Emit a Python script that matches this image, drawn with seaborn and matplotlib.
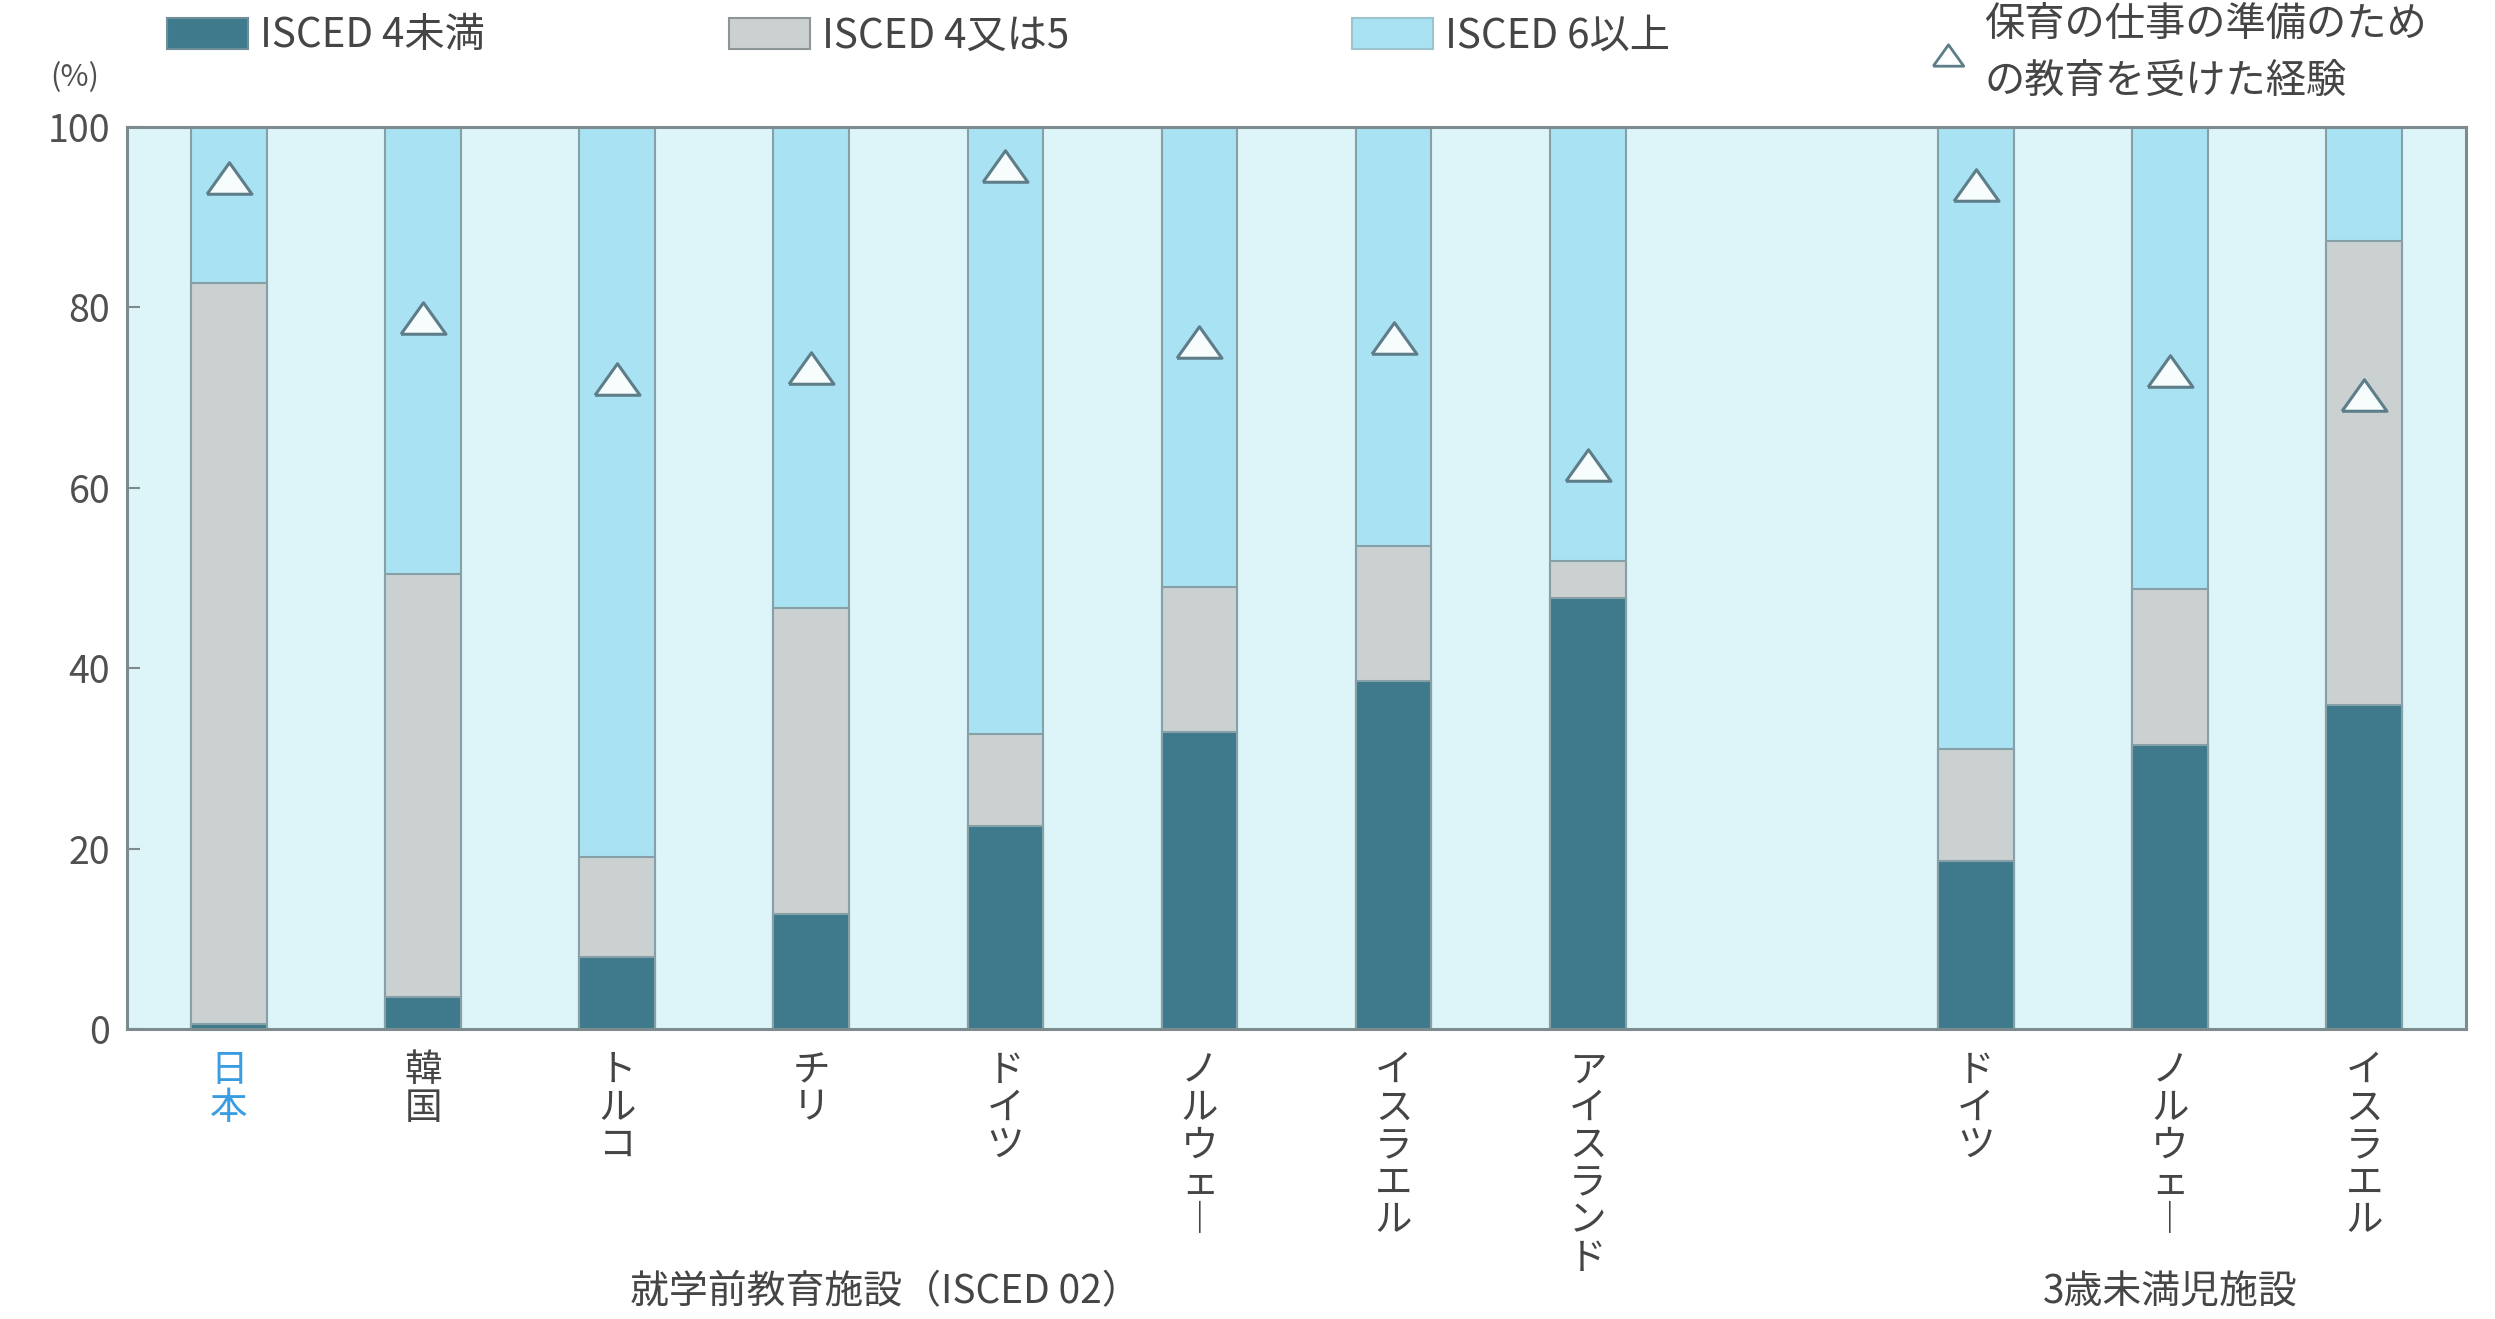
import numpy as np
import pandas as pd
import matplotlib
matplotlib.use("Agg")
import matplotlib.pyplot as plt
import seaborn as sns
from matplotlib.patches import Patch
from matplotlib.lines import Line2D

# --- data -----------------------------------------------------------------
countries = ["日本", "韓国", "トルコ", "チリ", "ドイツ", "ノルウェー", "イスラエル",
             "アイスランド", "ドイツ", "ノルウェー", "イスラエル"]
positions = [0, 1, 2, 3, 4, 5, 6, 7, 9, 10, 11]
below_isced4 = [0.5, 3.5, 8.0, 12.7, 22.5, 32.9, 38.6, 47.8, 18.6, 31.5, 35.9]
isced4_or_5 = [82.2, 46.9, 11.1, 34.0, 10.2, 16.1, 14.9, 4.1, 12.4, 17.3, 51.5]
trained_share = [94.3, 78.8, 72.0, 73.3, 95.7, 76.1, 76.6, 62.5, 93.6, 72.9, 70.3]
group_labels = ["就学前教育施設（ISCED 02）", "3歳未満児施設"]
group_centers = [3.38, 10.0]
legend_labels = ["ISCED 4未満", "ISCED 4又は5", "ISCED 6以上",
                 "保育の仕事の準備のため\nの教育を受けた経験"]
yticks = [0, 20, 40, 60, 80, 100]

# --- style ----------------------------------------------------------------
DARK = "#3e7a8b"
GRAY = "#cbd0d0"
BLUE = "#a9e2f3"
BG = "#ddf4f9"
EDGE = "#86a0a8"
FRAME = "#7d8b8f"
TXT = "#454545"

sns.set_theme(style="white")
plt.rcParams["font.family"] = ["Noto Sans CJK JP", "DejaVu Sans"]

fig = plt.figure(figsize=(24.95, 13.19), dpi=100)
ax = fig.add_axes([0.0509, 0.2199, 0.9375, 0.6839])
ax.set_facecolor(BG)

df = pd.DataFrame({"pos": positions, "low": below_isced4, "mid": isced4_or_5})
df["mid_top"] = df["low"] + df["mid"]
df["total"] = 100.0

bar_kw = dict(data=df, x="pos", native_scale=True, width=0.39, errorbar=None,
              saturation=1, edgecolor=EDGE, linewidth=1.5, ax=ax)
sns.barplot(y="total", color=BLUE, **bar_kw)
sns.barplot(y="mid_top", color=GRAY, **bar_kw)
sns.barplot(y="low", color=DARK, **bar_kw)

tri = [(-1, -0.7), (1, -0.7), (0, 0.7), (-1, -0.7)]
sns.scatterplot(x=positions, y=trained_share, marker=tri, s=1050,
                color="#f7fcfd", edgecolor="#5d7e89", linewidth=2.2,
                zorder=5, ax=ax, legend=False)

ax.set_xlim(-0.525, 11.525)
ax.set_ylim(0, 100)
ax.set_xlabel("")
ax.set_ylabel("")

# vertical (tategaki) country labels
def vertical(s):
    return "\n".join("︱" if ch == "ー" else ch for ch in s)

ax.set_xticks(positions)
ax.set_xticklabels([vertical(c) for c in countries], fontsize=27,
                   linespacing=0.95, color=TXT, va="top")
ax.get_xticklabels()[0].set_color("#3a9de2")
ax.tick_params(axis="x", length=0, pad=16)

ax.set_yticks(yticks)
ax.set_yticklabels([str(v) for v in yticks], fontsize=27, color="#505050")
ax.tick_params(axis="y", direction="in", length=9, width=1.5, color=FRAME, pad=12,
               left=True)

for sp in ax.spines.values():
    sp.set_visible(True)
    sp.set_color(FRAME)
    sp.set_linewidth(2.2)

for lab, cx in zip(group_labels, group_centers):
    ax.text(cx, -0.292, lab, transform=ax.get_xaxis_transform(), ha="center",
            va="center", fontsize=28, color=TXT)

fig.text(75 / 2495, 1 - 78 / 1319, "(%)", ha="center", va="center",
         fontsize=22, color="#505050")

# legend entries, one per block
handles = [Patch(facecolor=DARK, edgecolor="#6f8f98", linewidth=1.5),
           Patch(facecolor=GRAY, edgecolor="#8e9597", linewidth=1.5),
           Patch(facecolor=BLUE, edgecolor="#9cc4cf", linewidth=1.5),
           Line2D([], [], marker=tri, ms=22, linestyle="none",
                  markerfacecolor="white", markeredgecolor="#5d7e89",
                  markeredgewidth=2)]
anchors = [(167, 36), (729, 36), (1352, 36)]
for h, lab, (px, py) in zip(handles[:3], legend_labels[:3], anchors):
    fig.legend([h], [lab], loc="center left",
               bbox_to_anchor=(px / 2495, 1 - py / 1319), frameon=False,
               fontsize=29, handlelength=2.0, handleheight=0.8,
               handletextpad=0.3, borderpad=0, borderaxespad=0,
               labelcolor=TXT)
leg4 = fig.legend([handles[3]], [legend_labels[3]], loc="upper left",
                  bbox_to_anchor=(1930 / 2495, 1 - 4 / 1319), frameon=False,
                  fontsize=29, handlelength=0.9, handletextpad=0.45,
                  borderpad=0, borderaxespad=0, labelcolor=TXT)
for t in leg4.get_texts():
    t.set_linespacing(1.5)

fig.savefig("out.png", dpi=100, facecolor="white")
